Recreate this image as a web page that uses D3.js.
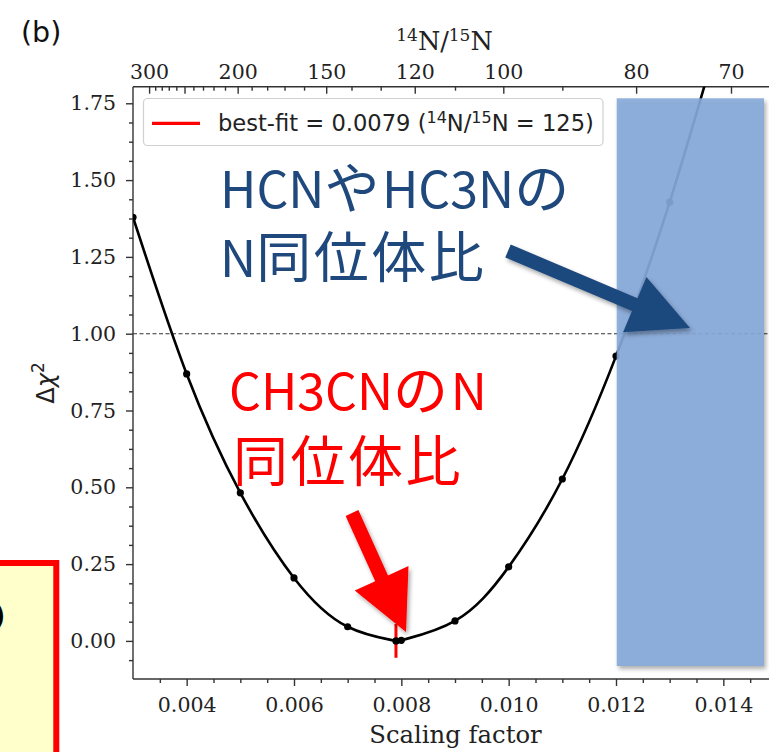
<!DOCTYPE html>
<html>
<head>
<meta charset="utf-8">
<script src="https://cdnjs.cloudflare.com/ajax/libs/d3/7.8.5/d3.min.js"></script>
<style>
  body { margin: 0; background: #fff; }
  .tick text { font-family: "DejaVu Serif", serif; font-size: 20.5px; fill: #222; }
  .domain, .tick line { stroke: #333; stroke-width: 1.4; }
</style>
</head>
<body>
<div id="chart"></div>
<script>
// data
const scaleFactors = [0.003, 0.004, 0.005, 0.006, 0.007, 0.0079, 0.008, 0.009, 0.010, 0.011, 0.012, 0.013, 0.014]
const deltaChi2 = [1.379, 0.869, 0.482, 0.205, 0.046, 0.000, 0.002, 0.065, 0.241, 0.527, 0.927, 1.428, 2.02]
const bestFit = 0.0079
const bestRatio = 125
const xTicks = [0.004, 0.006, 0.008, 0.010, 0.012, 0.014]
const yTicks = [0, 0.25, 0.5, 0.75, 1.0, 1.25, 1.5, 1.75]
const ratioTicks = [300, 250, 200, 150, 120, 100, 80, 70]
const ratioLabels = [300, 200, 150, 120, 100, 80, 70]
const ratioMinor = [290, 280, 270, 260, 240, 230, 220, 210, 190, 180, 170, 160, 140, 130, 110, 90]
const ratioConst = 0.99   // 14N/15N = ratioConst / scaling factor

const width = 769, height = 752
const pLeft = 133, pRight = 777, pTop = 86.7, pBottom = 679

const svg = d3.select('#chart').append('svg')
  .attr('width', width)
  .attr('height', height)

let defs = svg.append('defs')
let shadow = defs.append('filter').attr('id', 'shadow')
  .attr('x', '-20%').attr('y', '-20%').attr('width', '140%').attr('height', '140%')
shadow.append('feDropShadow')
  .attr('dx', 2).attr('dy', 3).attr('stdDeviation', 2.2)
  .attr('flood-color', '#000').attr('flood-opacity', 0.35)

defs.append('clipPath').attr('id', 'plotclip')
  .append('rect')
  .attr('x', pLeft).attr('y', pTop)
  .attr('width', pRight - pLeft).attr('height', pBottom - pTop)

let x = d3.scaleLinear().domain([0.003, 0.015]).range([pLeft, pRight])
let y = d3.scaleLinear().domain([-0.124, 1.804]).range([pBottom, pTop])

// minor ticks
let xMinor = d3.range(7, 30).filter(i => i % 4 !== 0).map(i => i * 0.0005)
let yMinor = d3.range(-1, 29).filter(i => i % 4 !== 0).map(i => i * 0.0625)

svg.append('g')
  .attr('transform', `translate(0,${pBottom})`)
  .call(d3.axisBottom(x).tickValues(xMinor).tickSize(4).tickFormat(''))
  .call(g => g.select('.domain').remove())
svg.append('g')
  .attr('transform', `translate(0,${pBottom})`)
  .call(d3.axisBottom(x).tickValues(xTicks).tickSize(7).tickPadding(11).tickFormat(d3.format('.3f')))
  .call(g => g.select('.domain').attr('d', `M${pLeft},0H${width + 10}`))

svg.append('g')
  .attr('transform', `translate(${pLeft},0)`)
  .call(d3.axisLeft(y).tickValues(yMinor).tickSize(4).tickFormat(''))
  .call(g => g.select('.domain').remove())
svg.append('g')
  .attr('transform', `translate(${pLeft},0)`)
  .call(d3.axisLeft(y).tickValues(yTicks).tickSize(7).tickPadding(10).tickFormat(d3.format('.2f')))
  .call(g => g.select('.domain').attr('d', `M0,${pTop}V${pBottom}`))

// top axis: 14N/15N ratio
svg.append('g')
  .attr('transform', `translate(0,${pTop})`)
  .call(d3.axisTop(x).tickValues(ratioMinor.map(r => ratioConst / r)).tickSize(-4).tickFormat(''))
  .call(g => g.select('.domain').remove())
svg.append('g')
  .attr('transform', `translate(0,${pTop})`)
  .call(d3.axisTop(x).tickValues(ratioTicks.map(r => ratioConst / r)).tickSize(-7).tickPadding(8)
    .tickFormat(s => {
      let r = Math.round(ratioConst / s)
      return ratioLabels.includes(r) ? r : ''
    }))
  .call(g => g.select('.domain').attr('d', `M${pLeft},0H${width + 10}`))

// axis labels
svg.append('text')
  .attr('x', 455.5).attr('y', 743)
  .attr('text-anchor', 'middle')
  .style('font-family', '"DejaVu Serif", serif').style('font-size', '24.3px').style('fill', '#222')
  .text('Scaling factor')

let topLabel = svg.append('text')
  .attr('x', 444.5).attr('y', 50)
  .attr('text-anchor', 'middle')
  .style('font-family', '"DejaVu Serif", serif').style('font-size', '25.5px').style('fill', '#222')
topLabel.append('tspan').attr('dy', -9.5).style('font-size', '17px').text('14')
topLabel.append('tspan').attr('dy', 9.5).text('N/')
topLabel.append('tspan').attr('dy', -9.5).style('font-size', '17px').text('15')
topLabel.append('tspan').attr('dy', 9.5).text('N')

let yLabel = svg.append('text')
  .attr('transform', 'translate(54,383) rotate(-90)')
  .attr('text-anchor', 'middle')
  .style('font-family', '"DejaVu Sans", sans-serif').style('font-size', '24px').style('fill', '#222')
yLabel.append('tspan').text('Δ')
yLabel.append('tspan').style('font-style', 'italic').text('χ')
yLabel.append('tspan').attr('dy', -10).style('font-size', '17px').text('2')

svg.append('text')
  .attr('x', 21).attr('y', 42)
  .style('font-family', '"DejaVu Sans", sans-serif').style('font-size', '28.5px').style('fill', '#111')
  .text('(b)')

// plot contents
let plot = svg.append('g').attr('clip-path', 'url(#plotclip)')

plot.append('line')
  .attr('x1', pLeft).attr('x2', pRight)
  .attr('y1', y(1)).attr('y2', y(1))
  .attr('stroke', '#333').attr('stroke-width', 1.1).attr('stroke-dasharray', '4,2.5')

let points = scaleFactors.map((s, i) => ({ s: s, v: deltaChi2[i] }))

plot.append('path')
  .datum(points)
  .attr('fill', 'none')
  .attr('stroke', '#000')
  .attr('stroke-width', 2.6)
  .attr('d', d3.line().x(d => x(d.s)).y(d => y(d.v)).curve(d3.curveNatural))

plot.append('line')
  .attr('x1', x(bestFit)).attr('x2', x(bestFit))
  .attr('y1', y(0.055)).attr('y2', y(-0.055))
  .attr('stroke', '#ff0000').attr('stroke-width', 3)

plot.selectAll('.pt')
  .data(points)
  .enter()
  .append('circle')
  .attr('class', 'pt')
  .attr('cx', d => x(d.s))
  .attr('cy', d => y(d.v))
  .attr('r', 3.6)
  .attr('fill', '#000')

// legend
svg.append('rect')
  .attr('x', 143.5).attr('y', 98.5).attr('width', 459.5).attr('height', 47)
  .attr('rx', 4)
  .attr('fill', '#fff').attr('fill-opacity', 0.85)
  .attr('stroke', '#d0d0d0').attr('stroke-width', 1.2)
svg.append('line')
  .attr('x1', 152).attr('x2', 200).attr('y1', 123.3).attr('y2', 123.3)
  .attr('stroke', '#ff0000').attr('stroke-width', 3.3)
let leg = svg.append('text')
  .attr('x', 218).attr('y', 131)
  .style('font-family', '"DejaVu Sans", sans-serif').style('font-size', '22.6px').style('fill', '#222')
leg.append('tspan').text(`best-fit = ${bestFit} (`)
leg.append('tspan').attr('dy', -8.5).style('font-size', '16px').text('14')
leg.append('tspan').attr('dy', 8.5).text('N/')
leg.append('tspan').attr('dy', -8.5).style('font-size', '16px').text('15')
leg.append('tspan').attr('dy', 8.5).text(`N = ${bestRatio})`)

// slide overlays
svg.append('rect')
  .attr('x', 616.7).attr('y', 98.3).attr('width', 147.3).attr('height', 567.7)
  .attr('fill', '#86a9d9').attr('fill-opacity', 0.9)
  .attr('filter', 'url(#shadow)')

let yb = svg.append('g')
yb.append('rect')
  .attr('x', -20).attr('y', 563).attr('width', 76.3).attr('height', 220)
  .attr('fill', '#ffffcc').attr('stroke', '#ff0000').attr('stroke-width', 6)
yb.append('text')
  .attr('x', 7).attr('y', 633)
  .attr('text-anchor', 'end')
  .style('font-family', '"Noto Sans CJK JP", sans-serif').style('font-size', '48px').style('font-weight', '500')
  .text('の')

function arrowPoints(x0, y0, x1, y1, shaftW, headW, headL) {
  let dx = x1 - x0, dy = y1 - y0
  let len = Math.sqrt(dx * dx + dy * dy)
  let ux = dx / len, uy = dy / len
  let px = -uy, py = ux
  let bx = x1 - ux * headL, by = y1 - uy * headL
  let pts = [
    [x0 + px * shaftW / 2, y0 + py * shaftW / 2],
    [bx + px * shaftW / 2, by + py * shaftW / 2],
    [bx + px * headW / 2, by + py * headW / 2],
    [x1, y1],
    [bx - px * headW / 2, by - py * headW / 2],
    [bx - px * shaftW / 2, by - py * shaftW / 2],
    [x0 - px * shaftW / 2, y0 - py * shaftW / 2]
  ]
  return pts.map(p => p.join(',')).join(' ')
}

svg.append('polygon')
  .attr('points', arrowPoints(508, 251, 690, 328, 14, 60, 60))
  .attr('fill', '#1f497d')
  .attr('filter', 'url(#shadow)')

svg.append('polygon')
  .attr('points', arrowPoints(352, 513, 406, 632, 14, 59, 59))
  .attr('fill', '#ff0000')
  .attr('filter', 'url(#shadow)')

// Japanese captions: CJK runs set a little larger, as on the slide
function caption(xp, yp, str, color) {
  let t = svg.append('text')
    .attr('x', xp).attr('y', yp)
    .style('font-family', '"Noto Sans CJK JP", sans-serif')
    .style('font-size', '50px')
    .style('fill', color)
  let runs = str.match(/[\u3000-\u9fff]+|[^\u3000-\u9fff]+/g)
  runs.forEach(r => {
    let cjk = /[\u3000-\u9fff]/.test(r)
    t.append('tspan')
      .style('font-size', cjk ? '55px' : '50px')
      .style('letter-spacing', cjk ? '2.5px' : '0px')
      .text(r)
  })
}

caption(220, 208, 'HCNやHC3Nの', '#1f497d')
caption(220, 277, 'N同位体比', '#1f497d')
caption(229, 410, 'CH3CNのN', '#ff0000')
caption(233, 481, '同位体比', '#ff0000')
</script>
</body>
</html>
